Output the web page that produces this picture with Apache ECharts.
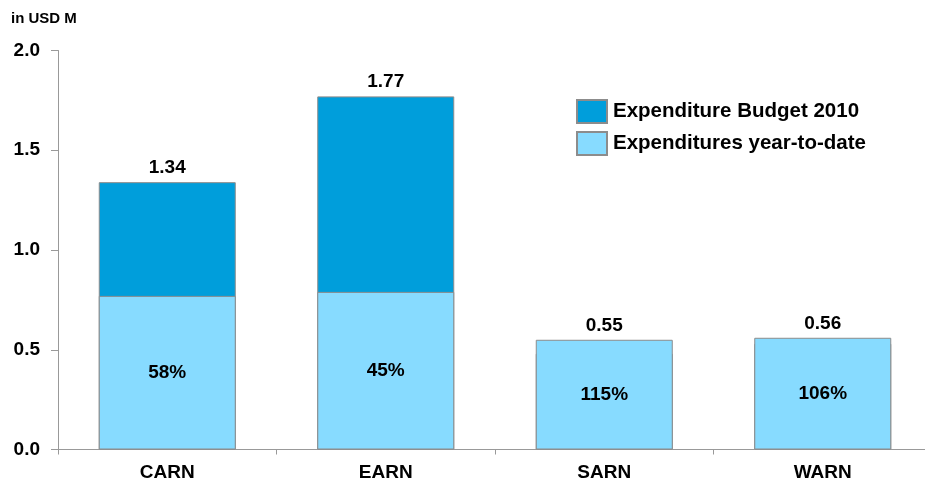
<!DOCTYPE html>
<html>
<head>
<meta charset="utf-8">
<script src="https://cdn.jsdelivr.net/npm/echarts@6/dist/echarts.min.js"></script>
<style>
  html, body { margin: 0; padding: 0; background: #fff; overflow: hidden; }
  #chart { width: 935px; height: 483px; }
</style>
</head>
<body>
<div id="chart"></div>
<script>
// data
const categories = ['CARN', 'EARN', 'SARN', 'WARN']
const budget = [1.34, 1.77, 0.48, 0.53]      // Expenditure Budget 2010
const yearToDate = [0.77, 0.79, 0.55, 0.56]  // Expenditures year-to-date
const shareLabels = ['58%', '45%', '115%', '106%']
const topLabels = [1.34, 1.77, 0.55, 0.56]
const yTicks = { min: 0, max: 2, interval: 0.5 }

const FONT = 'Liberation Sans, Arial, sans-serif'
const DARK = '#009edb'
const LIGHT = '#87dbff'
const EDGE = '#8c8c8c'

// the plot runs a little past the right edge of the 925px window
const chart = echarts.init(document.getElementById('chart'))

chart.setOption({
  animation: false,
  graphic: [{
    type: 'text',
    left: 11,
    top: 11,
    style: { text: 'in USD M', font: 'bold 15px ' + FONT, fill: '#000' }
  }],
  legend: {
    data: ['Expenditure Budget 2010', 'Expenditures year-to-date'],
    orient: 'vertical',
    left: 576,
    top: 99,
    padding: 0,
    itemWidth: 30,
    itemHeight: 23,
    itemGap: 7,
    icon: 'rect',
    selectedMode: false,
    textStyle: { fontFamily: FONT, fontWeight: 'bold', fontSize: 20.5, color: '#000', padding: [0, 0, 0, 1] }
  },
  grid: { left: 58, right: 3, top: 50.5, bottom: 33.5, containLabel: false },
  xAxis: {
    type: 'category',
    data: categories,
    axisLine: { lineStyle: { color: '#999', width: 1 } },
    axisTick: { show: true, length: 5, lineStyle: { color: '#999' } },
    axisLabel: { fontFamily: FONT, fontWeight: 'bold', fontSize: 19, color: '#000', margin: 14 }
  },
  yAxis: {
    type: 'value',
    min: yTicks.min,
    max: yTicks.max,
    interval: yTicks.interval,
    axisLine: { show: true, lineStyle: { color: '#999', width: 1 } },
    axisTick: { show: true, length: 7, lineStyle: { color: '#999' } },
    splitLine: { show: false },
    axisLabel: {
      fontFamily: FONT, fontWeight: 'bold', fontSize: 19, color: '#000', margin: 18,
      formatter: (v) => v.toFixed(1)
    }
  },
  series: [
    {
      name: 'Expenditure Budget 2010',
      type: 'bar',
      data: budget,
      barWidth: 137,
      barGap: '-100%',
      itemStyle: { color: DARK, borderColor: EDGE, borderWidth: 1 },
      z: 2
    },
    {
      name: 'Expenditures year-to-date',
      type: 'bar',
      data: yearToDate,
      barWidth: 137,
      barGap: '-100%',
      itemStyle: { color: LIGHT, borderColor: EDGE, borderWidth: 1 },
      label: {
        show: true,
        position: 'inside',
        fontFamily: FONT, fontWeight: 'bold', fontSize: 19, color: '#000',
        formatter: (p) => shareLabels[p.dataIndex]
      },
      z: 3
    },
    {
      name: 'top',
      type: 'bar',
      data: topLabels,
      barWidth: 137,
      barGap: '-100%',
      silent: true,
      itemStyle: { color: 'rgba(0,0,0,0)' },
      label: {
        show: true,
        position: 'top',
        distance: 5,
        fontFamily: FONT, fontWeight: 'bold', fontSize: 19, color: '#000',
        formatter: (p) => p.value.toFixed(2)
      },
      z: 4
    }
  ]
})
</script>
</body>
</html>
